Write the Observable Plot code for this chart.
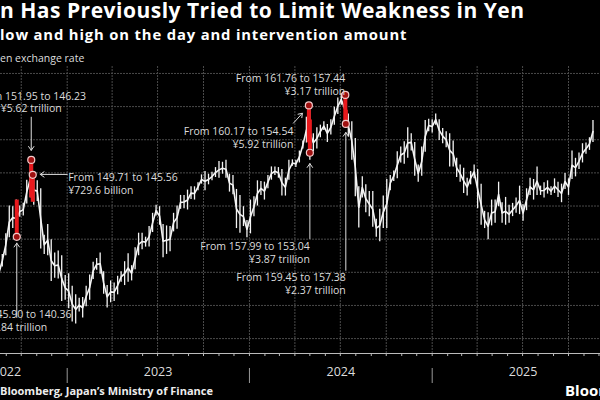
<!DOCTYPE html>
<html><head><meta charset="utf-8">
<script src="https://cdn.jsdelivr.net/npm/d3@7"></script>
<script src="https://cdn.jsdelivr.net/npm/@observablehq/plot@0.6"></script>
<style>
html,body{margin:0;padding:0;background:#000;}
#wrap{position:relative;width:600px;height:400px;overflow:hidden;background:#000;font-family:"Open Sans",sans-serif;color:#fff;}
#chart{position:absolute;left:0;top:0;}
.t{position:absolute;white-space:nowrap;}
#title{left:0;top:0;font-weight:700;font-size:21px;line-height:20px;letter-spacing:0.5px;}
#subtitle{left:0;top:27px;font-weight:700;font-size:14.8px;line-height:15px;letter-spacing:0.85px;}
#unit{left:0;top:52px;font-size:10.5px;line-height:12px;color:#ddd;}
#source{left:0;top:385px;font-weight:700;font-size:11px;line-height:12px;color:#eee;}
#logo{left:565px;top:382px;font-weight:700;font-size:15px;line-height:16px;color:#fff;}
</style></head>
<body><div id="wrap">
<div id="chart"></div>
<div class="t" id="title">n Has Previously Tried to Limit Weakness in Yen</div>
<div class="t" id="subtitle">low and high on the day and intervention amount</div>
<div class="t" id="unit">en exchange rate</div>
<div class="t" id="source">Bloomberg, Japan’s Ministry of Finance</div>
<div class="t" id="logo">Bloomberg</div>
</div>
<script>
// Weekly low / high of the dollar-yen rate (week starting on Monday)
const start2022 = "2022-08-01";
const lows2022  = [130.4,132.0,132.6,135.8,137.5,140.2,141.6,140.36,143.3,143.5,145.3,146.23,145.1,145.7,138.5,137.7,137.5,133.6,134.1,134.0,130.6,130.8];
const highs2022 = [135.5,135.6,137.0,137.7,140.8,144.99,144.9,145.9,145.0,145.4,148.9,151.95,149.71,148.8,147.6,140.6,142.2,139.9,137.9,138.2,137.5,134.5];
const start2023 = "2023-01-02";
const lows2023  = [129.5,127.5,127.2,129.0,128.1, 129.8,130.8,133.9,135.3, 134.7,131.7,129.6,130.4, 130.6,131.6,133.5,133.0, 133.5,133.7,135.4,137.5,138.4, 138.8,138.8,141.0,143.5, 142.1,137.2,137.7,138.1,141.1, 141.5,144.5,144.6,144.4, 146.0,145.9,147.3,148.3, 147.3,148.2,148.8,149.3,149.2, 149.8,149.2,147.1,146.7, 141.6,140.9,141.9,140.2];
const highs2023 = [134.8,132.9,131.6,131.1,131.2, 132.9,134.6,136.5,137.1, 137.9,135.1,133.0,133.7, 133.4,134.4,135.1,136.6, 137.8,136.0,138.7,140.9,140.9, 140.3,141.9,143.9,145.1, 144.9,142.2,142.0,141.9,143.9, 145.0,146.6,146.6,147.4, 147.9,147.9,148.5,149.7, 150.2,149.8,150.1,150.8,151.7, 151.6,151.9,149.8,149.6, 147.5,146.6,144.9,142.8];
const start2024 = "2024-01-01";
const lows2024  = [140.8,143.4,145.0,146.6,145.9, 147.6,148.9,149.6,149.2, 146.5,146.5,148.9,151.0, 150.8,151.5,153.6,154.5,151.9, 153.2,153.6,155.3,156.4, 154.6,155.7,157.2,158.8, 160.2,157.4,155.4,151.9,146.4, 141.7,146.2,144.0,143.4, 141.8,140.3,139.6,141.6,141.6, 147.3,148.7,149.1,151.5, 151.3,152.2,153.3,149.5, 148.6,149.5,153.1,156.2,156.0];
const highs2024 = [145.9,146.4,148.8,148.7,148.6, 149.6,150.9,150.9,150.8, 150.5,149.2,151.9,151.97, 151.9,153.3,154.8,158.4,160.17, 155.9,156.8,157.2,157.7, 157.3,158.0,159.9,161.3, 161.95,161.8,158.9,157.7,155.2, 147.9,149.4,148.2,147.2, 147.2,143.0,144.5,146.5,149.0, 149.6,150.3,153.2,153.9, 154.7,156.8,155.9,154.6, 151.2,153.9,157.9,158.1,158.0];
const start2025 = "2025-01-06";
const lows2025  = [157.2,154.9,154.4,153.8, 150.9,150.9,149.3,148.6, 146.9,146.5,148.2,149.1,144.6, 142.1,141.6,139.9,142.0, 142.4,144.9,142.4,142.1, 142.4,143.4,143.9,143.7,142.7, 144.3,146.6,145.9,146.6, 146.6,146.2,146.8,146.6, 146.9,146.3,145.5,147.5,146.6, 149.0,149.4,150.5,151.5, 152.8,153.4,154.6];
const highs2025 = [158.9,158.0,156.7,156.2, 155.9,154.8,152.2,151.2, 150.7,149.2,150.2,151.2,150.5, 148.3,144.2,144.0,145.9, 145.9,148.6,145.5,146.3, 145.1,145.4,146.2,148.0,145.2, 147.6,149.2,149.0,150.9, 148.0,148.5,148.8,147.9, 149.1,148.6,148.3,149.9,149.1, 153.3,152.2,153.0,154.4, 154.5,155.3,157.9];

// Interventions by Japan's Ministry of Finance
const interventionDates  = ["2022-09-22","2022-10-21","2022-10-24","2024-04-29","2024-05-01","2024-07-11","2024-07-12"];
const interventionFrom   = [145.90,151.95,149.71,160.17,157.99,161.76,159.45];
const interventionTo     = [140.36,146.23,145.56,154.54,153.04,157.44,157.38];
const interventionAmount = ["¥2.84 trillion","¥5.62 trillion","¥729.6 billion","¥5.92 trillion","¥3.87 trillion","¥3.17 trillion","¥2.37 trillion"];
const circledValue       = [140.36,151.95,149.71,160.17,153.04,161.76,157.38];

// Axis labels
const yearLabels = ["2022","2023","2024","2025"];
const yearLabelDates = ["2022-09-02","2023-07-02","2024-07-02","2025-07-02"];
const yGridValues = [125,130,135,140,145,150,155,160,165];

// annotation placement (in data units)
const labelX = ["2022-09-22","2022-10-21","2023-01-03","2024-03-29","2024-05-01","2024-07-11","2024-07-12"];
const labelY = [129.4,162.4,150.1,157.0,139.7,165.0,135.0];
const labelAnchor = ["middle","middle","start","end","end","end","end"];
const arrowX1 = ["2022-09-22","2022-10-21","2023-01-01","2024-03-29","2024-05-01","2024-07-12"];
const arrowY1 = [128.2,158.4,149.77,157.5,140.1,135.3];
const arrowX2 = ["2022-09-22","2022-10-21","2022-11-08","2024-04-16","2024-05-01","2024-07-12"];
const arrowY2 = [139.4,153.4,149.77,159.0,151.4,156.1];

const D = s => new Date(s + "T00:00:00Z");

function weeks(start, lows, highs) {
  return lows.map((lo, i) => ({date: d3.utcDay.offset(D(start), 7 * i + 2), low: lo, high: highs[i]}));
}
const weekly = [
  ...weeks(start2022, lows2022, highs2022),
  ...weeks(start2023, lows2023, highs2023),
  ...weeks(start2024, lows2024, highs2024),
  ...weeks(start2025, lows2025, highs2025)
];
const interventions = interventionDates.map((d, i) => ({
  date: D(d), from: interventionFrom[i], to: interventionTo[i], amount: interventionAmount[i], circled: circledValue[i]
}));
const labels = interventions.map((d, i) => ({
  x: D(labelX[i]), y: labelY[i], anchor: labelAnchor[i],
  text: `From ${d.from.toFixed(2)} to ${d.to.toFixed(2)}\n${d.amount}`
}));
const arrows = arrowX1.map((d, i) => ({x1: D(d), y1: arrowY1[i], x2: D(arrowX2[i]), y2: arrowY2[i]}));
const quarters = d3.utcMonth.every(3).range(D("2022-07-01"), D("2026-01-01"));
const months = d3.utcMonth.range(D("2022-08-01"), D("2026-01-01"));
const yearStarts = [D("2023-01-01"), D("2024-01-01"), D("2025-01-01")];
const years = yearLabels.map((t, i) => ({t, x: D(yearLabelDates[i])}));

const textOpts = {fill: "#dcdcdc", fontSize: 10.5, lineHeight: 1.2, lineAnchor: "top"};

const chart = Plot.plot({
  width: 600, height: 400,
  marginTop: 66, marginBottom: 47, marginLeft: 0, marginRight: 0,
  style: {background: "transparent", color: "#ddd", fontFamily: "Open Sans, sans-serif"},
  x: {type: "utc", domain: [D("2023-01-01"), D("2025-01-01")], range: [66.7, 431.7], axis: null},
  y: {domain: [122.75, 166.05], axis: null},
  marks: [
    Plot.ruleY(yGridValues, {stroke: "#4a4a4a", strokeWidth: 1, strokeDasharray: "2,1"}),
    Plot.ruleX(quarters, {stroke: "#4a4a4a", strokeWidth: 1, strokeDasharray: "2,1", clip: true}),
    Plot.ruleY([122.75], {stroke: "#bbbbbb", strokeWidth: 1}),
    Plot.axisX({ticks: months, tickSize: 3, tickFormat: () => "", stroke: "#bbbbbb", label: null}),
    Plot.axisX({ticks: yearStarts, tickSize: 15, dy: 15, tickFormat: () => "", stroke: "#999", label: null}),
    Plot.text(years, {x: "x", text: "t", frameAnchor: "bottom", dy: 22, fill: "#dcdcdc", fontSize: 12.5}),
    Plot.ruleX(weekly, {x: "date", y1: "low", y2: "high", stroke: "#f4f4f4", strokeWidth: 1.3, clip: true}),
    Plot.line(weekly, {x: "date", y: d => (d.low + d.high) / 2, stroke: "#f4f4f4", strokeWidth: 1.6, clip: true}),
    Plot.ruleX(interventions, {x: "date", y1: "from", y2: "to", stroke: "#e8191d", strokeWidth: 4, clip: true}),
    Plot.arrow(arrows, {x1: "x1", y1: "y1", x2: "x2", y2: "y2", stroke: "#dcdcdc", strokeWidth: 1, headLength: 7, headAngle: 70}),
    Plot.dot(interventions, {x: "date", y: "circled", r: 3.5, fill: "#a01010", stroke: "#f3caca", strokeWidth: 1.2}),
    Plot.text(labels.filter(d => d.anchor === "middle"), {x: "x", y: "y", text: "text", textAnchor: "middle", ...textOpts}),
    Plot.text(labels.filter(d => d.anchor === "start"), {x: "x", y: "y", text: "text", textAnchor: "start", ...textOpts}),
    Plot.text(labels.filter(d => d.anchor === "end"), {x: "x", y: "y", text: "text", textAnchor: "end", ...textOpts})
  ]
});
document.getElementById("chart").appendChild(chart);
</script>
</body></html>
